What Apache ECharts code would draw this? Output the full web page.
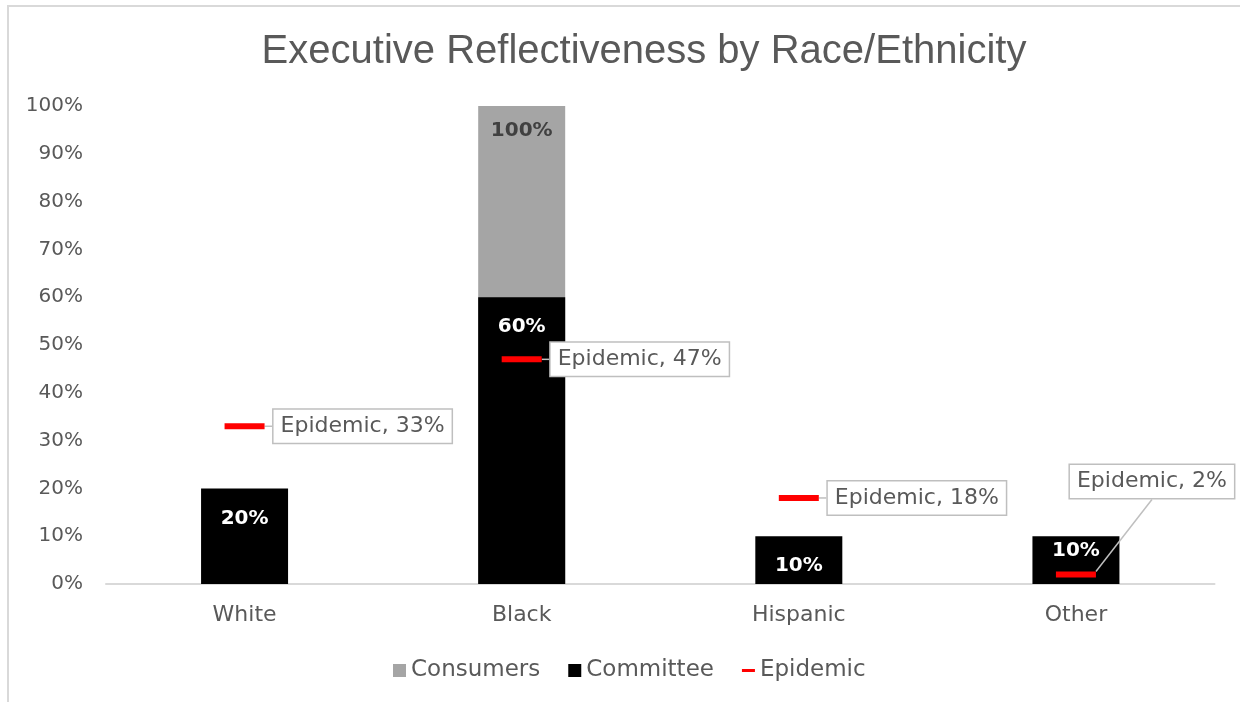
<!DOCTYPE html>
<html>
<head>
<meta charset="utf-8">
<script src="https://cdn.jsdelivr.net/npm/echarts@6/dist/echarts.min.js"></script>
<style>
html,body{margin:0;padding:0;background:#fff;overflow:hidden;}
#frame{position:absolute;left:7px;top:5px;width:1400px;height:900px;border-left:2px solid #d9d9d9;border-top:2px solid #d9d9d9;}
#chart{position:absolute;left:0;top:0;width:1240px;height:702px;}
</style>
</head>
<body>
<div id="frame"></div>
<div id="chart"></div>
<script>
const categories = ['White', 'Black', 'Hispanic', 'Other'];
const consumers = [null, 100, null, null];
const committee = [20, 60, 10, 10];
const epidemic = [33, 47, 18, 2];
const yTicks = { min: 0, max: 100, interval: 10 };

const labelShift = [[0, 0], [0, 0], [0, 0], [-35, -93]];

const chart = echarts.init(document.getElementById('chart'), null, { renderer: 'canvas' });
const grey = '#595959';
const font = 'DejaVu Sans';

chart.setOption({
  animation: false,
  backgroundColor: 'transparent',
  title: {
    text: 'Executive Reflectiveness by Race/Ethnicity',
    left: 639, top: 27, textAlign: 'center',
    textStyle: { fontFamily: 'Liberation Sans', fontSize: 40, fontWeight: 'normal', color: grey }
  },
  legend: {
    top: 654, left: 388, itemGap: 28, itemWidth: 13, itemHeight: 13,
    textStyle: { fontFamily: font, fontSize: 23, color: grey },
    data: [
      { name: 'Consumers', icon: 'rect' },
      { name: 'Committee', icon: 'rect' },
      { name: 'Epidemic', icon: 'path://M0,0h13v3h-13z' }
    ]
  },
  grid: { left: 106, right: 25.5, top: 106, bottom: 118, containLabel: false },
  xAxis: {
    type: 'category', data: categories,
    axisLine: { lineStyle: { color: '#d9d9d9', width: 2 } },
    axisTick: { show: false },
    axisLabel: { margin: 20, fontFamily: font, fontSize: 22, color: grey }
  },
  yAxis: {
    type: 'value', min: yTicks.min, max: yTicks.max, interval: yTicks.interval,
    splitLine: { show: false },
    axisLine: { show: false }, axisTick: { show: false },
    axisLabel: { margin: 23, formatter: '{value}%', fontFamily: font, fontSize: 20, color: grey }
  },
  series: [
    {
      name: 'Consumers', type: 'bar', data: consumers, barWidth: 87, barGap: '-100%',
      itemStyle: { color: '#a5a5a5' },
      label: { show: true, position: 'insideTop', distance: 15, formatter: '{c}%',
        fontFamily: font, fontSize: 20, fontWeight: 'bold', color: '#404040' }
    },
    {
      name: 'Committee', type: 'bar', barWidth: 87, barGap: '-100%',
      data: committee.map((v, i) => i === 3 ? { value: v, label: { distance: 5 } } : v),
      itemStyle: { color: '#000000' },
      label: { show: true, position: 'insideTop', distance: 20, formatter: '{c}%',
        fontFamily: font, fontSize: 20, fontWeight: 'bold', color: '#ffffff' }
    },
    {
      name: 'Epidemic', type: 'scatter', data: epidemic, z: 5,
      symbol: 'rect', symbolSize: [40, 6],
      itemStyle: { color: '#ff0000', opacity: 1 },
      label: {
        show: true, position: 'right', distance: 9,
        formatter: p => p.seriesName + ', ' + p.value + '%',
        fontFamily: font, fontSize: 22, color: grey,
        backgroundColor: '#ffffff', borderColor: '#bfbfbf', borderWidth: 1.5,
        padding: [6, 7, 5, 7]
      },
      labelLine: { show: true, lineStyle: { color: '#bfbfbf', width: 1.5 } },
      labelLayout: p => ({ dx: labelShift[p.dataIndex][0], dy: labelShift[p.dataIndex][1] })
    }
  ]
});
</script>
</body>
</html>
